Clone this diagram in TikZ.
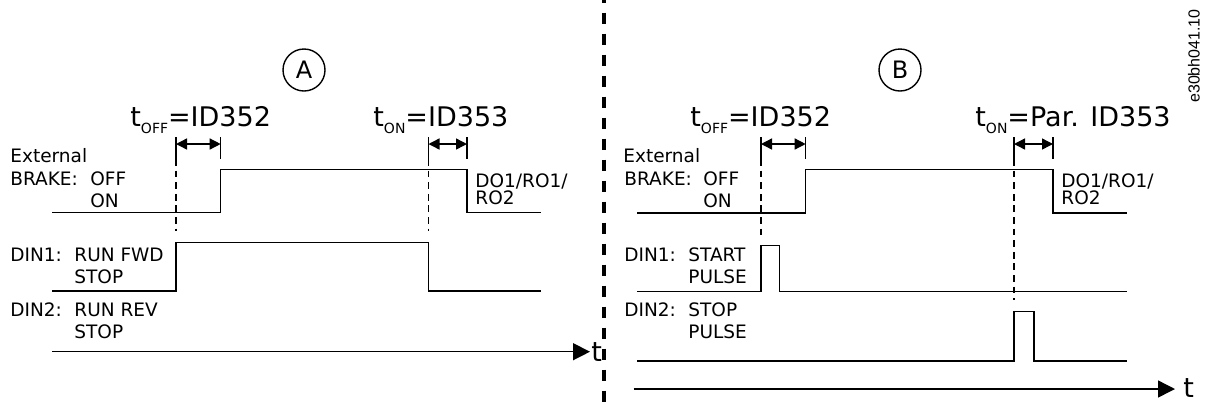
\documentclass[tikz,border=0pt]{standalone}
\usepackage{fontspec}
\setmainfont{DejaVu Sans}
\newfontfamily\codefont{Liberation Sans}
\usepackage{tikz}
\usetikzlibrary{arrows.meta}
\newcommand\subtxt[1]{\raisebox{-3.5pt}{\fontsize{7}{8}\selectfont #1}}

\begin{document}
\begin{tikzpicture}[x=.5pt, y=-.5pt,
  every node/.style={inner sep=0pt, anchor=base west, font=\fontsize{9.25}{11}\selectfont},
  sig/.style={line width=.7pt},
  guide/.style={line width=.6pt, dash pattern=on 3.4pt off 2.4pt},
  dim/.style={line width=.7pt, {Triangle[length=5.5pt,width=5.5pt]}-{Triangle[length=5.5pt,width=5.5pt]}},
  axis/.style={line width=.7pt, -{Triangle[length=8.5pt,width=8.5pt]}},
  sep/.style={line width=1.6pt, dash pattern=on 5.5pt off 5pt},
  big/.style={font=\fontsize{13.5}{16}\selectfont},
  tag/.style={circle, draw, line width=.7pt, minimum size=21pt, anchor=center, font=\fontsize{12}{14}\selectfont}]
  \useasboundingbox (0,0) rectangle (1205,403);
  \draw[sep] (604,-8.3) -- (604,410);
  % panel A
  \node[tag] (A) at (304,70) {A};
  \node[big] (offA) at (130,126) {t\subtxt{OFF}=ID352};
  \node[big] (onA) at (373,126) {t\subtxt{ON}=ID353};
  \node (extA) at (10,162) {External};
  \node (brkA) at (10,185) {BRAKE:};
  \node (brkoffA) at (90,185) {OFF};
  \node (brkonA) at (90,207) {ON};
  \node (doA) at (475,187) {DO1/RO1/};
  \node (roA) at (475,204) {RO2};
  \node (din1A) at (10,261) {DIN1:};
  \node (fwdA) at (74,261) {RUN FWD};
  \node (stop1A) at (74,283) {STOP};
  \node (din2A) at (10,316) {DIN2:};
  \node (revA) at (74,316) {RUN REV};
  \node (stop2A) at (74,338) {STOP};
  \node[big] (tA) at (591,361.7) {t};
  \coordinate (a1) at (176,144);
  \coordinate (a2) at (220.7,144);
  \coordinate (a3) at (428.5,144);
  \coordinate (a4) at (467,144);
  \draw[dim] (a1) -- (a2);
  \draw[dim] (a3) -- (a4);
  \draw[guide] (176,159) -- (176,231);
  \draw[guide] (428.5,159) -- (428.5,231);
  \draw[sig] (52,212.7) -| (220.7,169.3) -| (467,212.7) -- (541,212.7);
  \draw[sig] (52,291) -| (176,242.5) -| (428.5,291) -- (541,291);
  \coordinate (t0A) at (52,351.7);
  \coordinate (t1A) at (590,351.7);
  \draw[axis] (t0A) -- (t1A);
  % panel B
  \node[tag] (B) at (900,70) {B};
  \node[big] (offB) at (690,126) {t\subtxt{OFF}=ID352};
  \node[big] (onB) at (975,126) {t\subtxt{ON}=Par. ID353};
  \node (extB) at (623,162) {External};
  \node (brkB) at (624,185) {BRAKE:};
  \node (brkoffB) at (703,185) {OFF};
  \node (brkonB) at (703,207) {ON};
  \node (doB) at (1061,187) {DO1/RO1/};
  \node (roB) at (1061,204) {RO2};
  \node (din1B) at (624,261) {DIN1:};
  \node (startB) at (688,261) {START};
  \node (pulse1B) at (688,283) {PULSE};
  \node (din2B) at (624,316) {DIN2:};
  \node (stopB) at (688,316) {STOP};
  \node (pulse2B) at (688,338) {PULSE};
  \node[big] (tB) at (1183,397) {t};
  \coordinate (b1) at (761,144);
  \coordinate (b2) at (805.7,144);
  \coordinate (b3) at (1014,144);
  \coordinate (b4) at (1053,144);
  \draw[dim] (b1) -- (b2);
  \draw[dim] (b3) -- (b4);
  \draw[guide] (761,159) -- (761,239);
  \draw[guide] (1014,159) -- (1014,300);
  \draw[sig] (637,213) -| (805.7,169.3) -| (1053,213) -- (1127,213);
  \draw[sig] (637,291.5) -| (761,245.5) -| (779.3,291.5) -- (1127,291.5);
  \draw[sig] (637,361) -| (1014,311.7) -| (1034,361) -- (1127,361);
  \coordinate (t0B) at (633.6,389);
  \coordinate (t1B) at (1175,389);
  \draw[axis] (t0B) -- (t1B);
  % ticks
  \foreach \x in {176,220.7,428.5,467,761,805.7,1014,1053}
    \draw[sig] (\x,137) -- (\x,159);
  \node[rotate=90, anchor=center, font=\codefont\fontsize{8}{9}\selectfont] (code) at (1194,56) {e30bh041.10};
\end{tikzpicture}
\end{document}
